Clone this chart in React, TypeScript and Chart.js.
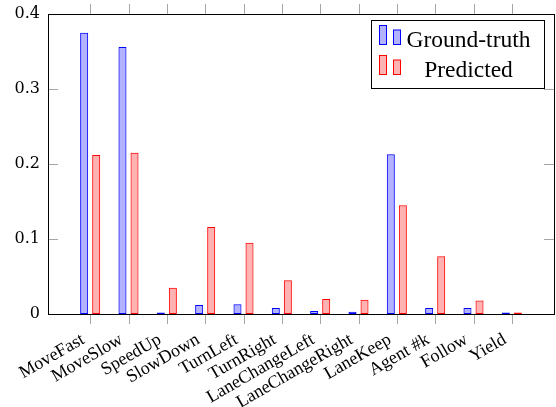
import React, { useEffect, useRef } from "react";
import { Chart, registerables } from "chart.js";

Chart.register(...registerables);

const categories = [
  "MoveFast",
  "MoveSlow",
  "SpeedUp",
  "SlowDown",
  "TurnLeft",
  "TurnRight",
  "LaneChangeLeft",
  "LaneChangeRight",
  "LaneKeep",
  "Agent #k",
  "Follow",
  "Yield",
];
const groundTruth = [0.375, 0.356, 0.001, 0.012, 0.013, 0.008, 0.004, 0.003, 0.213, 0.008, 0.008, 0.001];
const predicted = [0.212, 0.215, 0.035, 0.116, 0.095, 0.045, 0.02, 0.019, 0.145, 0.077, 0.018, 0.001];
const yTicks = [0, 0.1, 0.2, 0.3, 0.4];
const seriesNames = ["Ground-truth", "Predicted"];

const framePlugin = {
  id: "frameTicks",
  afterDatasetsDraw(chart: any) {
    const { ctx, chartArea: a, scales } = chart;
    const xs = scales.x;
    const ys = scales.y;
    ctx.save();
    ctx.strokeStyle = "#a6a6a6";
    ctx.lineWidth = 1;
    ctx.beginPath();
    xs.ticks.forEach((t: any) => {
      const px = Math.round(xs.getPixelForValue(t.value)) + 0.5;
      ctx.moveTo(px, a.bottom);
      ctx.lineTo(px, a.bottom + 10);
      ctx.moveTo(px, a.top);
      ctx.lineTo(px, a.top - 10);
    });
    ys.ticks.forEach((t: any) => {
      const py = Math.round(ys.getPixelForValue(t.value)) + 0.5;
      ctx.moveTo(a.left, py);
      ctx.lineTo(a.left + 10, py);
      ctx.moveTo(a.right, py);
      ctx.lineTo(a.right - 10, py);
    });
    ctx.stroke();
    ctx.strokeStyle = "#000";
    ctx.strokeRect(
      Math.round(a.left) + 0.5,
      Math.round(a.top) + 0.5,
      Math.round(a.right - a.left),
      Math.round(a.bottom - a.top)
    );
    ctx.restore();
  },
  afterDraw(chart: any) {
    const { ctx, chartArea: a } = chart;
    const w = 173;
    const h = 68;
    const x0 = Math.round(a.right - 10 - w) + 0.5;
    const y0 = Math.round(a.top + 6) + 0.5;
    ctx.save();
    ctx.fillStyle = "#fff";
    ctx.fillRect(x0, y0, w, h);
    ctx.strokeStyle = "#000";
    ctx.lineWidth = 1;
    ctx.strokeRect(x0, y0, w, h);
    chart.data.datasets.forEach((ds: any, i: number) => {
      const bottom = y0 + 24 + i * 30;
      ctx.fillStyle = ds.backgroundColor;
      ctx.strokeStyle = ds.borderColor;
      ctx.fillRect(x0 + 8, bottom - 19, 7, 19);
      ctx.strokeRect(x0 + 8, bottom - 19, 7, 19);
      ctx.fillRect(x0 + 22, bottom - 14.5, 7, 14.5);
      ctx.strokeRect(x0 + 22, bottom - 14.5, 7, 14.5);
      ctx.fillStyle = "#000";
      ctx.font = "23.5px 'Liberation Serif'";
      ctx.textAlign = "center";
      ctx.textBaseline = "alphabetic";
      ctx.fillText(ds.label, x0 + 97, y0 + 26.5 + i * 30);
    });
    ctx.restore();
  },
};

export default function App() {
  const ref = useRef<HTMLCanvasElement>(null);
  useEffect(() => {
    if (!ref.current) return;
    const chart = new Chart(ref.current, {
      type: "bar",
      data: {
        datasets: [
          {
            label: seriesNames[0],
            data: groundTruth.map((v, i) => ({ x: i, y: v })),
            backgroundColor: "rgba(0,0,255,0.3)",
            borderColor: "rgb(0,0,255)",
            borderWidth: 1,
            borderSkipped: false,
            minBarLength: 1.5,
            categoryPercentage: 0.628,
            barPercentage: 0.667,
          },
          {
            label: seriesNames[1],
            data: predicted.map((v, i) => ({ x: i, y: v })),
            backgroundColor: "rgba(255,0,0,0.3)",
            borderColor: "rgb(255,0,0)",
            borderWidth: 1,
            borderSkipped: false,
            minBarLength: 1.5,
            categoryPercentage: 0.628,
            barPercentage: 0.667,
          },
        ],
      } as any,
      options: {
        animation: false,
        responsive: true,
        maintainAspectRatio: false,
        layout: { padding: { top: 14, right: 2, left: 0, bottom: 0 } },
        plugins: { legend: { display: false }, tooltip: { enabled: false } },
        scales: {
          x: {
            type: "linear",
            min: -1.1,
            max: 12.1,
            offset: false,
            afterBuildTicks: (s: any) => {
              s.ticks = categories.map((_, i) => ({ value: i }));
            },
            afterFit: (s: any) => {
              s.height = 93;
              s.paddingLeft = 0;
              s.paddingRight = 0;
            },
            grid: { display: false, drawTicks: false },
            border: { display: false },
            ticks: {
              autoSkip: false,
              maxRotation: 30,
              minRotation: 30,
              padding: 15,
              labelOffset: -7,
              color: "#000",
              font: { family: "'Liberation Serif'", size: 18 },
              callback: (v: any) => categories[v] ?? "",
            },
          },
          y: {
            min: 0,
            max: 0.4,
            afterBuildTicks: (s: any) => {
              s.ticks = yTicks.map((v) => ({ value: v }));
            },
            afterFit: (s: any) => {
              s.width = 48;
              s.paddingTop = 0;
              s.paddingBottom = 0;
            },
            grid: { display: false, drawTicks: false },
            border: { display: false },
            ticks: {
              padding: 8,
              color: "#000",
              font: { family: "'DejaVu Serif'", size: 16 },
              callback: (v: any) => String(Math.round(v * 10) / 10),
            },
          },
        },
      } as any,
      plugins: [framePlugin],
    });
    return () => chart.destroy();
  }, []);
  return (
    <div style={{ position: "fixed", left: 0, top: 0, width: 556, height: 407, background: "#fff" }}>
      <canvas ref={ref} />
    </div>
  );
}
